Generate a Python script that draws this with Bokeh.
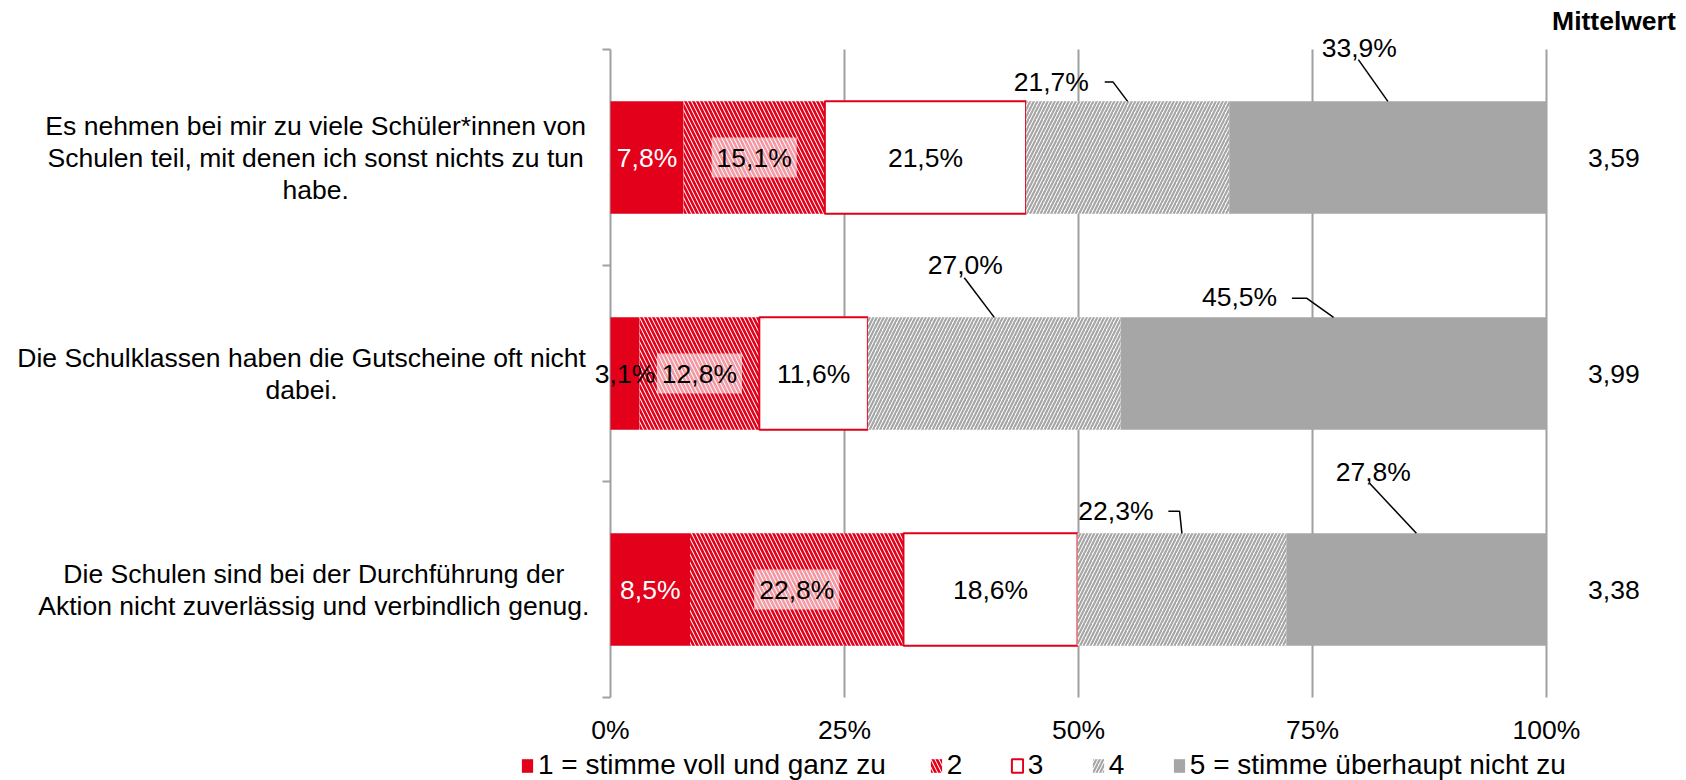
from bokeh.plotting import figure
from bokeh.models import Range1d, Label, Legend, LegendItem
from bokeh.embed import file_html
from bokeh.resources import INLINE

# ---------------- data ----------------
question_lines = [
    ["Es nehmen bei mir zu viele Schüler*innen von",
     "Schulen teil, mit denen ich sonst nichts zu tun",
     "habe."],
    ["Die Schulklassen haben die Gutscheine oft nicht",
     "dabei."],
    ["Die Schulen sind bei der Durchführung der",
     "Aktion nicht zuverlässig und verbindlich genug."],
]
levels = ["1 = stimme voll und ganz zu", "2", "3", "4", "5 = stimme überhaupt nicht zu"]
level1 = [7.8, 3.1, 8.5]
level2 = [15.1, 12.8, 22.8]
level3 = [21.5, 11.6, 18.6]
level4 = [21.7, 27.0, 22.3]
level5 = [33.9, 45.5, 27.8]
means = [3.59, 3.99, 3.38]
mean_title = "Mittelwert"
tick_values = [0, 25, 50, 75, 100]
tick_labels = ["0%", "25%", "50%", "75%", "100%"]

# ---------------- layout / style ----------------
W, H = 1686, 780
PLOT_L, PLOT_T = 610, 49          # pixel position of the 0% line / top edge of the plot area
PLOT_W, PLOT_H = 936, 648
FONT = "Liberation Sans"
FS = "26.5px"
LEG_FS = "28px"
RED = "#E2001A"
GRAY = "#A6A6A6"
AXIS_GRAY = "#A0A0A0"
BAR_H = 0.52
n = len(question_lines)
yc = [n - i - 0.5 for i in range(n)]

PX_X = PLOT_W / 100.0             # pixels per percent
PX_Y = PLOT_H / n                 # pixels per category band
x_start = -PLOT_L / PX_X
x_end = (W - PLOT_L) / PX_X
y_end = n + PLOT_T / PX_Y
y_start = n - (H - PLOT_T) / PX_Y

cat_x = [-31.5, -33.0, -31.7]
LINE_DY = 32 / PX_Y
MEAN_X = 107.2
TICK_Y = -32 / PX_Y
TICK_LEN = 8 / PX_X
out_labels = {
    (0, 3): ((47.1, 2.849), [(52.8, 2.849), (53.7, 2.849)]),
    (0, 4): ((80.0, 3.008), [(79.9, 2.953)]),
    (1, 3): ((37.9, 2.002), [(37.8, 1.943)]),
    (1, 4): ((67.2, 1.853), [(72.8, 1.848), (74.4, 1.848)]),
    (2, 3): ((54.0, 0.862), [(59.6, 0.862), (60.8, 0.862)]),
    (2, 4): ((81.5, 1.046), [(81.1, 0.992)]),
}

p = figure(width=W, height=H, min_border=0,
           x_range=Range1d(x_start, x_end), y_range=Range1d(y_start, y_end),
           x_axis_type=None, y_axis_type=None,
           output_backend="svg", toolbar_location=None,
           background_fill_color="white", border_fill_color="white")
p.outline_line_color = None

# gridlines and y axis
p.segment(x0=tick_values[1:], y0=[0] * 4, x1=tick_values[1:], y1=[n] * 4,
          line_color=AXIS_GRAY, line_width=2)
p.segment(x0=[0], y0=[0], x1=[0], y1=[n], line_color=AXIS_GRAY, line_width=2)
p.segment(x0=[-TICK_LEN] * (n + 1), y0=list(range(n + 1)), x1=[0] * (n + 1),
          y1=list(range(n + 1)), line_color=AXIS_GRAY, line_width=2)

series = [level1, level2, level3, level4, level5]
styles = [
    dict(fill_color=RED, line_color=None),
    dict(fill_color="white", hatch_pattern="\\", hatch_color=RED,
         hatch_scale=8, hatch_weight=2.6, line_color=None),
    dict(fill_color="white", line_color=RED, line_width=2),
    dict(fill_color="white", hatch_pattern="/", hatch_color=GRAY,
         hatch_scale=7, hatch_weight=2.2, line_color=None),
    dict(fill_color=GRAY, line_color=None),
]

def lab(x, y, text, color="black", size=FS, **kw):
    p.add_layout(Label(x=x, y=y, text=text, text_align="center",
                       text_baseline="middle", text_font=FONT,
                       text_font_size=size, text_color=color, **kw))

lefts = [0.0] * n
renderers = []
for k, vals in enumerate(series):
    rights = [l + v for l, v in zip(lefts, vals)]
    r = p.hbar(y=yc, left=lefts, right=rights, height=BAR_H, **styles[k])
    renderers.append(r)
    for i, v in enumerate(vals):
        txt = f"{v:.1f}%".replace(".", ",")
        mid = (lefts[i] + rights[i]) / 2
        if k in (0, 1, 2):
            color = "white" if (k == 0 and v >= 5) else "black"
            kw = {}
            if k == 1:
                kw = dict(background_fill_color="white", background_fill_alpha=0.6,
                          padding=5)
            lab(mid, yc[i], txt, color, **kw)
        else:
            (lx, ly), path = out_labels[(i, k)]
            lab(lx, ly, txt)
            xs = [pt[0] for pt in path] + [mid]
            ys = [pt[1] for pt in path] + [yc[i] + BAR_H / 2]
            p.line(xs, ys, line_color="black", line_width=1.5)
    lefts = rights

# category labels
for i, lines in enumerate(question_lines):
    m = len(lines)
    for j, t in enumerate(lines):
        lab(cat_x[i], yc[i] + ((m - 1) / 2 - j) * LINE_DY, t)

# means
for i, mv in enumerate(means):
    lab(MEAN_X, yc[i], f"{mv:.2f}".replace(".", ","))
lab(MEAN_X, n + 29 / PX_Y, mean_title, text_font_style="bold")

# x tick labels
for tv, tl in zip(tick_values, tick_labels):
    lab(tv, TICK_Y, tl)

legend = Legend(items=[LegendItem(label=levels[k], renderers=[renderers[k]]) for k in range(5)],
                orientation="horizontal", location=(520, -1),
                label_text_font=FONT, label_text_font_size=LEG_FS,
                label_text_color="black",
                glyph_width=14, glyph_height=17, label_standoff=4, spacing=43,
                padding=0, margin=0, border_line_color=None,
                background_fill_alpha=0)
p.add_layout(legend)

open("out.html", "w").write(file_html(p, INLINE))
